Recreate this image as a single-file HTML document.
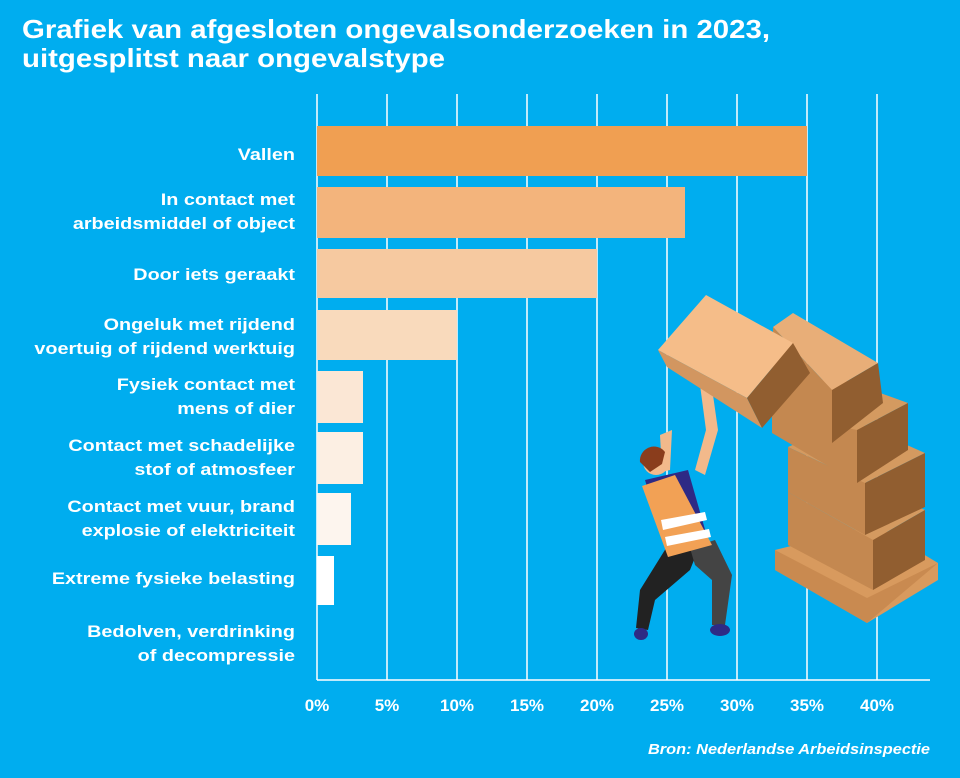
<!DOCTYPE html>
<html><head><meta charset="utf-8"><style>
body{margin:0;width:960px;height:773px;background:#00adef;overflow:hidden;font-family:"Liberation Sans",sans-serif;}
</style></head><body>
<svg width="960" height="773" xmlns="http://www.w3.org/2000/svg" font-family="Liberation Sans, sans-serif">
<rect width="960" height="773" fill="#00adef"/>
<text x="22" y="38" fill="#fff" font-size="26" font-weight="bold" textLength="748" lengthAdjust="spacingAndGlyphs">Grafiek van afgesloten ongevalsonderzoeken in 2023,</text>
<text x="22" y="67" fill="#fff" font-size="26" font-weight="bold" textLength="423" lengthAdjust="spacingAndGlyphs">uitgesplitst naar ongevalstype</text>
<g stroke="#fff" stroke-width="1.5">
<line x1="317" y1="94" x2="317" y2="680"/><line x1="387" y1="94" x2="387" y2="680"/>
<line x1="457" y1="94" x2="457" y2="680"/><line x1="527" y1="94" x2="527" y2="680"/>
<line x1="597" y1="94" x2="597" y2="680"/><line x1="667" y1="94" x2="667" y2="680"/>
<line x1="737" y1="94" x2="737" y2="680"/><line x1="807" y1="94" x2="807" y2="680"/>
<line x1="877" y1="94" x2="877" y2="680"/>
<line x1="317" y1="680" x2="930" y2="680"/>
</g>
<rect x="317" y="126" width="490" height="50" fill="#f09f52"/>
<rect x="317" y="187" width="368" height="51" fill="#f3b47c"/>
<rect x="317" y="249" width="280" height="49" fill="#f6c9a0"/>
<rect x="317" y="310" width="140" height="50" fill="#f9dabc"/>
<rect x="317" y="371" width="46" height="52" fill="#fbe7d5"/>
<rect x="317" y="432" width="46" height="52" fill="#fcefe3"/>
<rect x="317" y="493" width="34" height="52" fill="#fdf5ee"/>
<rect x="317" y="556" width="17" height="49" fill="#ffffff"/>
<g fill="#fff" font-size="16.5" font-weight="bold" text-anchor="end" transform="translate(295,0) scale(1.2,1) translate(-295,0)">
<text x="295" y="160">Vallen</text>
<text x="295" y="205">In contact met</text><text x="295" y="229">arbeidsmiddel of object</text>
<text x="295" y="280">Door iets geraakt</text>
<text x="295" y="330">Ongeluk met rijdend</text><text x="295" y="354">voertuig of rijdend werktuig</text>
<text x="295" y="390">Fysiek contact met</text><text x="295" y="414">mens of dier</text>
<text x="295" y="451">Contact met schadelijke</text><text x="295" y="475">stof of atmosfeer</text>
<text x="295" y="512">Contact met vuur, brand</text><text x="295" y="536">explosie of elektriciteit</text>
<text x="295" y="584">Extreme fysieke belasting</text>
<text x="295" y="637">Bedolven, verdrinking</text><text x="295" y="661">of decompressie</text>
</g>
<g fill="#fff" font-size="17" font-weight="bold" text-anchor="middle">
<text x="317" y="711">0%</text><text x="387" y="711">5%</text><text x="457" y="711">10%</text>
<text x="527" y="711">15%</text><text x="597" y="711">20%</text><text x="667" y="711">25%</text>
<text x="737" y="711">30%</text><text x="807" y="711">35%</text><text x="877" y="711">40%</text>
</g>
<text x="648" y="754" fill="#fff" font-size="14.5" font-weight="bold" font-style="italic" textLength="282" lengthAdjust="spacingAndGlyphs">Bron: Nederlandse Arbeidsinspectie</text>
<!-- pallet -->
<polygon points="775,550 875,525 938,563 938,580 867,623 775,570" fill="#d89a5e"/>
<polygon points="775,550 867,598 938,563 867,623 775,570" fill="#c98a50"/>
<!-- bottom box -->
<polygon points="788,492 873,540 925,510 840,470" fill="#d49a60"/>
<polygon points="788,492 873,540 873,590 788,545" fill="#c48850"/>
<polygon points="873,540 925,510 925,560 873,590" fill="#915e30"/>
<!-- second box -->
<polygon points="788,447 865,483 925,453 850,420" fill="#d49a60"/>
<polygon points="788,447 865,483 865,535 788,492" fill="#c48850"/>
<polygon points="865,483 925,453 925,507 865,535" fill="#915e30"/>
<!-- third box -->
<polygon points="772,413 857,430 908,403 830,375" fill="#d49a60"/>
<polygon points="772,413 857,430 857,483 772,433" fill="#c48850"/>
<polygon points="857,430 908,403 908,450 857,483" fill="#915e30"/>
<!-- tilted top box -->
<polygon points="773,327 793,313 878,363 832,390" fill="#e8ae78"/>
<polygon points="773,327 832,390 832,443 772,413" fill="#c48850"/>
<polygon points="832,390 878,363 883,403 832,443" fill="#915e30"/>
<!-- person legs -->
<polygon points="668,545 700,545 690,570 655,600 648,630 636,628 640,590" fill="#222"/>
<polygon points="690,548 715,540 732,575 725,625 712,625 712,580 695,565" fill="#444"/>
<ellipse cx="641" cy="634" rx="7" ry="6" fill="#2e2a85"/>
<ellipse cx="720" cy="630" rx="10" ry="6" fill="#2e2a85"/>
<!-- arms -->
<polygon points="700,385 712,388 718,430 705,475 695,470 706,430" fill="#f2b98b"/>
<polygon points="660,435 672,430 670,470 662,472" fill="#f2b98b"/>
<!-- torso -->
<polygon points="645,480 688,470 708,540 668,557" fill="#2e2a85"/>
<polygon points="642,486 675,475 712,545 668,557" fill="#f2a155"/>
<polygon points="661,520 705,512 707,520 663,530" fill="#fff"/>
<polygon points="665,537 709,529 711,537 667,546" fill="#fff"/>
<!-- head -->
<circle cx="656" cy="462" r="13" fill="#f2b98b"/>
<path d="M640,462 a14,14 0 0 1 25,-10 l-3,12 l-12,8 z" fill="#8a3d1c"/>
<!-- falling box -->
<polygon points="658,350 706,295 793,343 747,398" fill="#f5bd89"/>
<polygon points="658,350 747,398 762,428 667,367" fill="#d29660"/>
<polygon points="747,398 793,343 810,373 762,428" fill="#915e30"/>
</svg>
</body></html>
